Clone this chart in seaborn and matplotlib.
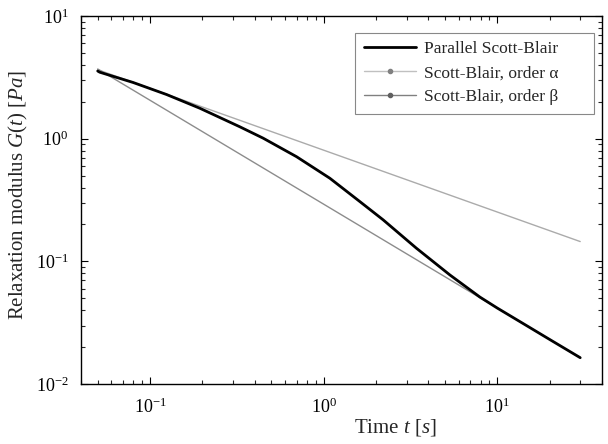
import pandas as pd
import matplotlib
matplotlib.use('Agg')
import matplotlib.pyplot as plt
import seaborn as sns
from matplotlib.lines import Line2D
from matplotlib.ticker import LogLocator, NullFormatter

# --- datos ---
T_PARALLEL = [0.05, 0.0514, 0.080, 0.1246, 0.1937, 0.329, 0.448, 0.698, 1.085, 1.616,
              2.20, 3.42, 5.33, 7.93, 10.0, 15.0, 20.0, 30.0]
G_PARALLEL = [3.56, 3.48, 2.87, 2.29, 1.77, 1.25, 1.01, 0.713, 0.476, 0.307,
              0.218, 0.128, 0.0775, 0.0512, 0.0416, 0.0295, 0.0231, 0.0164]

T_ALPHA = [0.05, 30.0]
G_ALPHA = [3.65, 0.145]

T_BETA = [0.05, 30.0]
G_BETA = [3.70, 0.0164]

LABELS = ['Parallel Scott-Blair', 'Scott-Blair, order α', 'Scott-Blair, order β']

# --- estilo ---
sns.set_style('ticks')
plt.rcParams.update({
    'font.family': ['Liberation Serif', 'DejaVu Serif'],
    'mathtext.fontset': 'custom',
    'mathtext.rm': 'Liberation Serif',
    'mathtext.it': 'Liberation Serif:italic',
    'font.size': 13,
    'axes.linewidth': 1.0,
    'axes.edgecolor': 'black',
    'xtick.direction': 'in',
    'ytick.direction': 'in',
    'xtick.top': True,
    'ytick.right': True,
})

df_par = pd.DataFrame({'t': T_PARALLEL, 'G': G_PARALLEL})
df_a = pd.DataFrame({'t': T_ALPHA, 'G': G_ALPHA})
df_b = pd.DataFrame({'t': T_BETA, 'G': G_BETA})

fig = plt.figure(figsize=(6.08, 4.44), dpi=100)
ax = fig.add_axes([0.133, 0.135, 0.857, 0.829])

sns.lineplot(data=df_a, x='t', y='G', color='#ababab', linewidth=1.0, ax=ax)
sns.lineplot(data=df_b, x='t', y='G', color='#8c8c8c', linewidth=1.0, ax=ax)
sns.lineplot(data=df_par, x='t', y='G', color='black', linewidth=2.0, ax=ax)

ax.set_xscale('log')
ax.set_yscale('log')
ax.set_xlim(0.04, 40)
ax.set_ylim(0.01, 10)

ax.xaxis.set_major_locator(LogLocator(base=10, numticks=10))
ax.yaxis.set_major_locator(LogLocator(base=10, numticks=10))
ax.xaxis.set_minor_locator(LogLocator(base=10, subs=range(2, 10), numticks=20))
ax.yaxis.set_minor_locator(LogLocator(base=10, subs=range(2, 10), numticks=20))
ax.xaxis.set_minor_formatter(NullFormatter())
ax.yaxis.set_minor_formatter(NullFormatter())
ax.tick_params(which='major', length=5, width=0.8, labelsize=13, colors='black')
ax.tick_params(which='minor', length=3, width=0.8)
ax.tick_params(axis='x', which='major', pad=10)
ax.tick_params(axis='y', which='major', pad=9)
for s in ax.spines.values():
    s.set_visible(True)
    s.set_color('black')

ax.set_xlabel(r'Time $t$ [$s$]', fontsize=15)
ax.set_ylabel(r'Relaxation modulus $G(t)$ [$Pa$]', fontsize=15)
ax.xaxis.set_label_coords(0.603, -0.09)
ax.yaxis.set_label_coords(-0.098, 0.514)

handles = [
    Line2D([], [], color='black', linewidth=2.0),
    Line2D([], [], color='#c0c0c0', linewidth=1.0, marker='.', markersize=6,
           markerfacecolor='#808080', markeredgecolor='#808080'),
    Line2D([], [], color='#808080', linewidth=1.0, marker='.', markersize=6,
           markerfacecolor='#606060', markeredgecolor='#606060'),
]
leg = ax.legend(handles, LABELS, loc='upper left', bbox_to_anchor=(0.526, 0.5, 0.459, 0.455),
                mode='expand', borderaxespad=0, fancybox=False, framealpha=1, edgecolor='#888888',
                fontsize=12.5, handlelength=3.0, handletextpad=0.5, labelspacing=0.45,
                borderpad=0.5)
leg.get_frame().set_linewidth(0.8)

plt.savefig('out.png', dpi=100)
